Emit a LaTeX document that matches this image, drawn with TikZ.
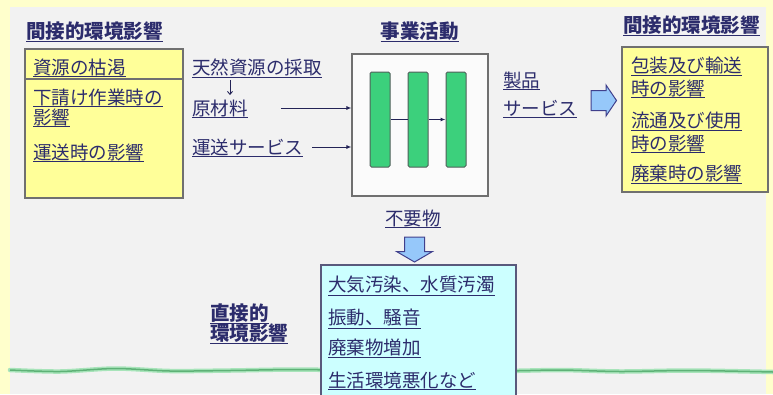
\documentclass[tikz,border=0pt]{standalone}
\usepackage{fontspec}
\newfontfamily\jp{Noto Sans CJK JP}
\usetikzlibrary{arrows.meta}
\definecolor{navy}{RGB}{44,44,108}
\definecolor{outerY}{RGB}{255,255,204}
\definecolor{paper}{RGB}{242,242,242}
\definecolor{boxY}{RGB}{255,255,153}
\definecolor{boxC}{RGB}{204,255,255}
\definecolor{barG}{RGB}{60,208,124}
\definecolor{barEdge}{RGB}{80,95,90}
\definecolor{edgeG}{RGB}{112,112,112}
\definecolor{arrowB}{RGB}{150,200,250}
\definecolor{lineG}{RGB}{110,210,140}
\tikzset{
  txt/.style={anchor=west, inner xsep=0pt, inner ysep=1.2pt, text=navy,
    font=\jp\fontsize{18.5}{20}\selectfont,
    append after command={(\tikzlastnode.south west) edge[draw=navy, line width=0.9pt] (\tikzlastnode.south east)}},
  ttl/.style={txt, font=\jp\bfseries\fontsize{19.5}{21}\selectfont},
  panel/.style={draw=edgeG, line width=1.1pt},
  bar/.style={draw=barEdge, fill=barG, line width=1pt, rounded corners=1.5pt,
    minimum width=20pt, minimum height=95pt, inner sep=0pt},
  conn/.style={draw=navy!80!black, line width=1pt, -{Latex[length=5pt,width=4pt]}},
  blockarrow/.style={fill=arrowB, draw=black!40!blue!50!gray, line width=1pt, line join=miter},
}
\begin{document}
\begin{tikzpicture}[x=1pt,y=-1pt]
\useasboundingbox (0,0) rectangle (773,394);
\fill[outerY] (0,0) rectangle (773,394);
\fill[paper] (10,7) rectangle (766,394);
% green ground line
\draw[lineG!60, line width=4.5pt, line cap=round] plot[smooth] coordinates {(10,370) (60,371.5) (115,368.5) (170,371) (230,370.5) (300,369.5) (380,371) (500,371) (560,370) (620,371.5) (690,370.5) (773,372)};
\draw[lineG!85!black, line width=1.5pt] plot[smooth] coordinates {(10,370) (60,371.5) (115,368.5) (170,371) (230,370.5) (300,369.5) (380,371) (500,371) (560,370) (620,371.5) (690,370.5) (773,372)};

% titles
\node[ttl] (tL) at (26,31) {間接的環境影響};
\node[ttl, anchor=east] (tM) at (459,31) {事業活動};
\node[ttl] (tR) at (623,25) {間接的環境影響};

% left yellow box
\node[panel, fill=boxY, minimum width=158pt, minimum height=149pt, inner sep=0pt] (lbox) at (104,123.5) {};
\draw[panel] (lbox.west |- 0,79) -- (lbox.east |- 0,79);
\node[txt] (l1) at (33,67) {資源の枯渇};
\node[txt] (l2) at (33,97) {下請け作業時の};
\node[txt] (l3) at (33,117) {影響};
\node[txt] (l4) at (33,152) {運送時の影響};

% inputs
\node[txt] (tennen) at (192,67) {天然資源の採取};
\node[txt] (genzai) at (192,108) {原材料};
\node[txt] (unsou) at (192,147) {運送サービス};

% main box
\node[panel, fill=white!70!paper, minimum width=136pt, minimum height=142pt, inner sep=0pt] (mbox) at (420,125) {};
\node[bar] (b1) at (380,119.5) {};
\node[bar] (b2) at (418,119.5) {};
\node[bar] (b3) at (456,119.5) {};
\draw[draw=navy!80!black, line width=1pt] (b1.east) -- (b2.west);
\draw[conn] (b2.east) -- (b3.west);

\draw[draw=navy!80!black, line width=0.9pt, -{Straight Barb[length=3pt,width=5pt]}] ([xshift=38pt,yshift=-3pt]tennen.south west) -- ([xshift=38pt,yshift=3pt]genzai.north west);
\draw[conn] ([xshift=33pt]genzai.east) -- (genzai.east -| mbox.west);
\draw[conn] ([xshift=9pt]unsou.east) -- (unsou.east -| mbox.west);

% outputs
\node[txt] (seihin) at (503,80) {製品};
\node[txt] (service) at (503,108) {サービス};

% right yellow box
\node[panel, fill=boxY, minimum width=146pt, minimum height=145pt, inner sep=0pt] (rbox) at (695,119.5) {};
\node[txt] (r1) at (631,65) {包装及び輸送};
\node[txt] (r2) at (631,88) {時の影響};
\node[txt] (r3) at (631,120) {流通及び使用};
\node[txt] (r4) at (631,143) {時の影響};
\node[txt] (r5) at (631,173) {廃棄時の影響};

% right block arrow
\draw[blockarrow] (591,90.5) -- (606,90.5) -- (606,85) -- (616.5,100.5) -- (606,116) -- (606,110.5) -- (591,110.5) -- cycle;

% waste
\node[txt] (fuyou) at (385,218) {不要物};
\draw[blockarrow] (404.5,237) -- (424.5,237) -- (424.5,251.5) -- (432.5,251.5) -- (414.5,262) -- (396.5,251.5) -- (404.5,251.5) -- cycle;

% cyan box
\node[panel, draw=black!55!blue!30!gray, fill=boxC, minimum width=195pt, minimum height=140pt, inner sep=0pt] (cbox) at (418.5,335) {};
\node[txt] (c1) at (328,285) {大気汚染、水質汚濁};
\node[txt] (c2) at (328,318) {振動、騒音};
\node[txt] (c3) at (328,347) {廃棄物増加};
\node[txt] (c4) at (328,380) {生活環境悪化など};

\node[ttl] (d1) at (210,313) {直接的};
\node[ttl] (d2) at (210,333) {環境影響};
\end{tikzpicture}
\end{document}
